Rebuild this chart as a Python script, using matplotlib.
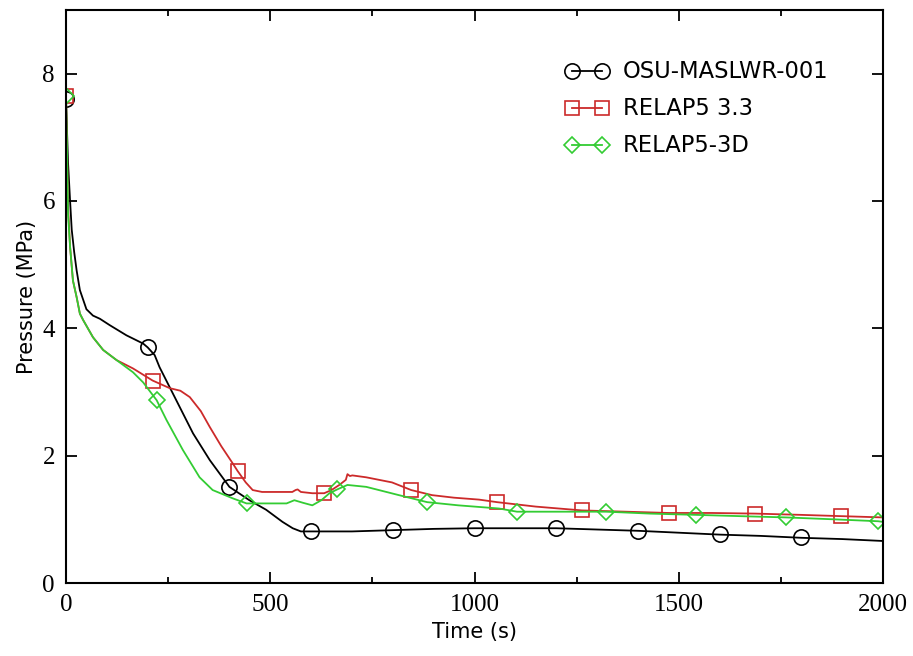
import matplotlib
matplotlib.use("Agg")
import matplotlib.pyplot as plt
from matplotlib.lines import Line2D
from matplotlib.ticker import MultipleLocator

# OSU-MASLWR-001 test data (black)
t_osu = [0, 2, 5, 10, 14, 20, 26, 34, 50, 66, 83, 107, 148, 189, 200, 217, 229, 270, 311,
         352, 400, 449, 490, 530, 555, 575, 603, 700, 800, 900, 1000, 1100, 1200, 1300,
         1400, 1500, 1600, 1700, 1800, 1900, 2000]
p_osu = [7.6, 7.2, 6.6, 6.0, 5.55, 5.2, 4.91, 4.6, 4.3, 4.2, 4.15, 4.05, 3.89, 3.76, 3.70,
         3.58, 3.39, 2.87, 2.35, 1.93, 1.51, 1.30, 1.15, 0.96, 0.86, 0.81, 0.81, 0.81, 0.83,
         0.85, 0.86, 0.86, 0.86, 0.84, 0.82, 0.79, 0.76, 0.74, 0.71, 0.69, 0.66]
t_osu_mk = [0, 200, 400, 600, 800, 1000, 1200, 1400, 1600, 1800]
p_osu_mk = [7.6, 3.70, 1.51, 0.82, 0.83, 0.86, 0.86, 0.82, 0.77, 0.72]

# RELAP5 3.3 (red)
t_r5 = [0, 2, 5, 10, 17, 26, 34, 42, 66, 91, 124, 164, 212, 254, 280, 303, 330, 352, 380,
        408, 420, 440, 457, 480, 520, 554, 562, 567, 575, 603, 632, 650, 669, 685, 689, 695,
        701, 735, 798, 845, 896, 950, 1011, 1055, 1150, 1263, 1370, 1475, 1580, 1687, 1800,
        1898, 2000]
p_r5 = [7.65, 7.0, 5.9, 5.28, 4.75, 4.49, 4.23, 4.13, 3.86, 3.66, 3.5, 3.37, 3.18, 3.06,
        3.02, 2.92, 2.7, 2.45, 2.15, 1.88, 1.76, 1.58, 1.46, 1.43, 1.43, 1.43, 1.46, 1.47,
        1.43, 1.41, 1.41, 1.46, 1.54, 1.62, 1.71, 1.68, 1.69, 1.66, 1.58, 1.46, 1.38, 1.34,
        1.31, 1.27, 1.2, 1.14, 1.12, 1.10, 1.10, 1.09, 1.07, 1.05, 1.03]
t_r5_mk = [0, 212, 420, 632, 845, 1055, 1263, 1475, 1687, 1898]
p_r5_mk = [7.65, 3.18, 1.76, 1.41, 1.46, 1.27, 1.14, 1.10, 1.09, 1.05]

# RELAP5-3D (green)
t_3d = [0, 2, 5, 10, 17, 26, 34, 42, 66, 91, 124, 164, 189, 222, 246, 286, 327, 359, 408,
        442, 500, 540, 559, 580, 603, 625, 645, 664, 689, 735, 815, 884, 960, 1060, 1104,
        1200, 1323, 1430, 1543, 1650, 1763, 1880, 1988, 2000]
p_3d = [7.65, 7.0, 5.8, 5.28, 4.75, 4.49, 4.23, 4.13, 3.86, 3.66, 3.5, 3.31, 3.15, 2.87,
        2.56, 2.09, 1.66, 1.46, 1.33, 1.25, 1.25, 1.25, 1.30, 1.26, 1.22, 1.30, 1.41, 1.47,
        1.54, 1.51, 1.38, 1.27, 1.22, 1.17, 1.12, 1.12, 1.12, 1.09, 1.07, 1.05, 1.03, 1.0,
        0.97, 0.96]
t_3d_mk = [0, 222, 442, 664, 884, 1104, 1323, 1543, 1763, 1988]
p_3d_mk = [7.65, 2.87, 1.25, 1.47, 1.27, 1.12, 1.12, 1.07, 1.03, 0.97]

labels = ["OSU-MASLWR-001", "RELAP5 3.3", "RELAP5-3D"]
colors = ["black", "#cc2a2a", "#33cc33"]
markers = ["o", "s", "D"]
msizes = [11, 10, 8]

fig = plt.figure(figsize=(9.13, 6.56), dpi=100)
ax = fig.add_axes([66 / 913, 1 - 583 / 656, 817 / 913, 573 / 656])

series = [(t_osu, p_osu, t_osu_mk, p_osu_mk),
          (t_r5, p_r5, t_r5_mk, p_r5_mk),
          (t_3d, p_3d, t_3d_mk, p_3d_mk)]

handles = []
for (t, p, tm, pm), c, m, ms, lab in zip(series, colors, markers, msizes, labels):
    ax.plot(t, p, color=c, lw=1.3)
    ax.plot(tm, pm, ls="none", marker=m, ms=ms, mfc="none", mec=c, mew=1.2)
    handles.append(Line2D([], [], color=c, lw=1.3, marker=m, ms=ms, mfc="none",
                          mec=c, mew=1.2))

ax.set_xlim(0, 2000)
ax.set_ylim(0, 9)
ax.xaxis.set_major_locator(MultipleLocator(500))
ax.xaxis.set_minor_locator(MultipleLocator(250))
ax.yaxis.set_major_locator(MultipleLocator(2))
ax.tick_params(which="both", direction="in", top=True, right=True, width=1.3)
ax.tick_params(which="major", length=8, pad=8)
ax.tick_params(which="minor", length=4)
for sp in ax.spines.values():
    sp.set_linewidth(1.5)

for lbl in ax.get_xticklabels() + ax.get_yticklabels():
    lbl.set_fontfamily("Liberation Serif")
    lbl.set_fontsize(18)

ax.set_xlabel("Time (s)", fontsize=15, labelpad=4)
ax.set_ylabel("Pressure (MPa)", fontsize=15, labelpad=4)

ax.legend(handles, labels, loc="upper left", bbox_to_anchor=(0.611, 0.912),
          frameon=False, fontsize=16.3, numpoints=2, handlelength=1.93,
          handletextpad=0.62, labelspacing=0.62, borderpad=0, borderaxespad=0)

fig.savefig("out.png", dpi=100)
